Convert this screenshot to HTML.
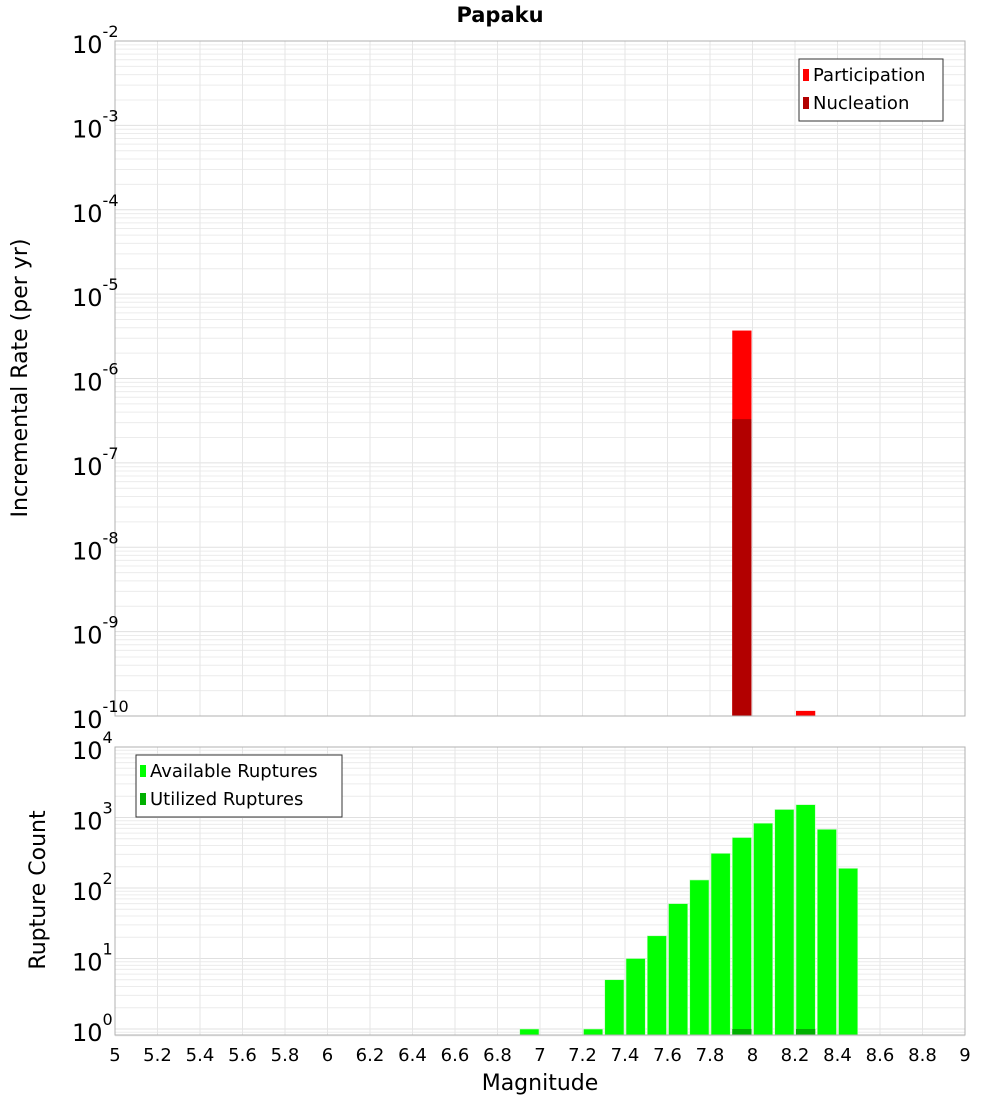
<!DOCTYPE html>
<html><head><meta charset="utf-8"><style>
body{margin:0;background:#fff;font-family:"DejaVu Sans","Liberation Sans",sans-serif}
svg text{font-family:"DejaVu Sans","Liberation Sans",sans-serif}
</style></head><body>
<svg id="c" width="1000" height="1100" xmlns="http://www.w3.org/2000/svg">
<text x="500" y="22" text-anchor="middle" font-size="21" font-weight="bold">Papaku</text>
<text transform="translate(27,378) rotate(-90)" text-anchor="middle" font-size="22">Incremental Rate (per yr)</text>
<text transform="translate(45,890) rotate(-90)" text-anchor="middle" font-size="22">Rupture Count</text>
<text x="540" y="1090" text-anchor="middle" font-size="22">Magnitude</text>
<g id="g"></g>
</svg>
<script>
const mags=[6.95,7.25,7.35,7.45,7.55,7.65,7.75,7.85,7.95,8.05,8.15,8.25,8.35,8.45];
const available=[1,1,5,10,21,60,130,310,520,830,1300,1520,680,190];
const utilizedMags=[7.95,8.25];
const utilized=[1,1];
const partMags=[7.95,8.25];
const participation=[3.7e-6,1.15e-10];
const nuclMags=[7.95];
const nucleation=[3.3e-7];
const xTicks=[5,5.2,5.4,5.6,5.8,6,6.2,6.4,6.6,6.8,7,7.2,7.4,7.6,7.8,8,8.2,8.4,8.6,8.8,9];
const topExp=[-2,-3,-4,-5,-6,-7,-8,-9,-10];
const botExp=[0,1,2,3,4];

const NS="http://www.w3.org/2000/svg",G=document.getElementById('g');
function el(t,a,p){const e=document.createElementNS(NS,t);for(const k in a)e.setAttribute(k,a[k]);(p||G).appendChild(e);return e;}
const L=115,R=965;
const X=m=>L+(m-5)/4*(R-L);
const T0=41,T1=716;
const yT=v=>T1-(Math.log10(v)+10)/8*(T1-T0);
const B0=747,B1=1035;
const yB=v=>1029-Math.log10(v)*70.5;

// top plot grid
let r=el('rect',{x:L,y:T0,width:R-L,height:T1-T0,fill:'#fff'});

for(let e=-10;e<-2;e++)for(let k=1;k<10;k++){const y=yT(k*Math.pow(10,e));if(y<T0)continue;el('line',{x1:L,x2:R,y1:y,y2:y,stroke:k==1?'#e0e0e0':'#ececec','stroke-width':1});}
for(let e=0;e<4;e++)for(let k=1;k<10;k++){const y=yB(k*Math.pow(10,e));if(y<B0)continue;el('line',{x1:L,x2:R,y1:y,y2:y,stroke:k==1?'#e0e0e0':'#ececec','stroke-width':1});}
for(let e=-1;e<0;e++)for(let k=8;k<10;k++){const y=yB(k/10);el('line',{x1:L,x2:R,y1:y,y2:y,stroke:'#ececec'});}
xTicks.forEach(t=>{const x=X(t);
 el('line',{x1:x,x2:x,y1:T0,y2:T1,stroke:'#e6e6e6'});
 el('line',{x1:x,x2:x,y1:B0,y2:B1,stroke:'#e6e6e6'});
 const tx=el('text',{x:x,y:1061,'text-anchor':'middle','font-size':18});tx.textContent=String(t);
 
});
const bw=(R-L)/40;
// top bars
partMags.forEach((m,i)=>{const y=yT(participation[i]);const b=el('rect',{x:X(m)-bw/2+1,y:y,width:bw-2,height:T1-y,fill:'#ff0000'});
 });
nuclMags.forEach((m,i)=>{const y=yT(nucleation[i]);const b=el('rect',{x:X(m)-bw/2+1,y:y,width:bw-2,height:T1-y,fill:'#b20000'});
 });
// bottom bars
mags.forEach((m,i)=>{const y=yB(available[i]);const b=el('rect',{x:X(m)-bw/2+1,y:y,width:bw-2,height:B1-y,fill:'#00ff00',stroke:'#c8f8c8','stroke-width':0.6});
 });
utilizedMags.forEach((m,i)=>{const y=yB(utilized[i]);const b=el('rect',{x:X(m)-bw/2+1,y:y,width:bw-2,height:B1-y,fill:'#00b000'});
 });
// frames
el('rect',{x:L,y:T0,width:R-L,height:T1-T0,fill:'none',stroke:'#b0b0b0'});
el('rect',{x:L,y:B0,width:R-L,height:B1-B0,fill:'none',stroke:'#b0b0b0'});
// y labels
function ylab(y,e,name){const t=el('text',{x:72,y:y+12,'font-size':24});t.textContent='10';
 const s=el('tspan',{dy:-16,'font-size':16},t);s.textContent=String(e);
 }
topExp.forEach(e=>ylab(yT(Math.pow(10,e)),e,'top-y-tick-label'));
botExp.forEach(e=>ylab(yB(Math.pow(10,e)),e,'bottom-y-tick-label'));
// legends
function legend(x,y,w,items,name){const g=el('g',{});
 el('rect',{x:x,y:y,width:w,height:items.length*28+6,fill:'#fff',stroke:'#333'},g);
 items.forEach((it,i)=>{el('rect',{x:x+4,y:y+10+i*28,width:6,height:12,fill:it[1]},g);
  const t=el('text',{x:x+14,y:y+22+i*28,'font-size':18},g);t.textContent=it[0];});}
legend(799,59,144,[['Participation','#ff0000'],['Nucleation','#b20000']],'top-legend');
legend(136,755,206,[['Available Ruptures','#00ff00'],['Utilized Ruptures','#00b000']],'bottom-legend');
</script>
</body></html>
